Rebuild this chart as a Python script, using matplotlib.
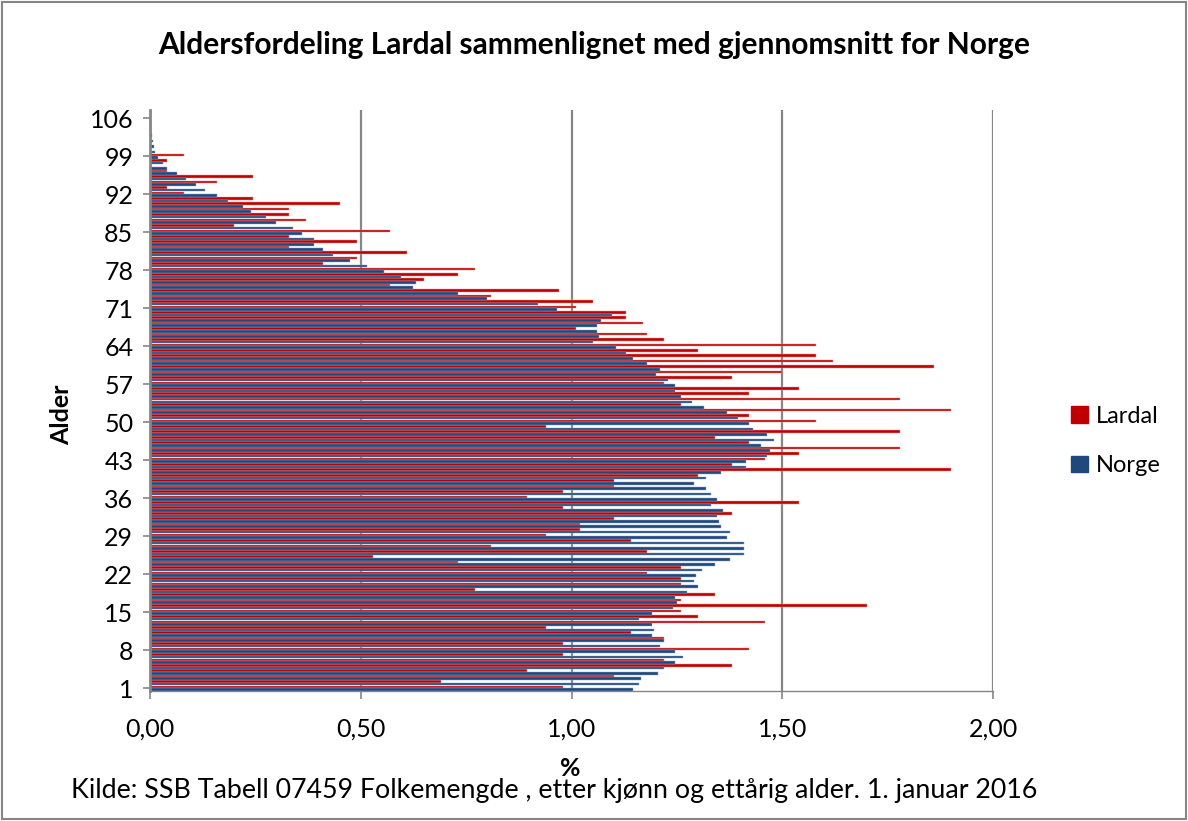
import matplotlib
matplotlib.use("Agg")
import matplotlib.pyplot as plt
from matplotlib.patches import Patch, Rectangle
from matplotlib.ticker import FuncFormatter
import numpy as np

plt.rcParams['font.family'] = ['Lato', 'DejaVu Sans']

categories = list(range(1, 108))

lardal = [0.98, 0.69, 1.10, 0.895, 1.38, 1.22, 0.98, 1.42, 0.98, 1.22,
          1.14, 0.94, 1.46, 1.30, 1.26, 1.70, 1.26, 1.34, 0.77, 1.26,
          1.26, 1.18, 1.26, 0.73, 0.53, 1.18, 0.81, 1.14, 0.94, 1.02,
          1.02, 1.10, 1.38, 0.98, 1.54, 0.895, 0.98, 1.10, 1.10, 1.30,
          1.90, 1.38, 1.46, 1.54, 1.78, 1.42, 1.34, 1.78, 0.94, 1.58,
          1.42, 1.90, 1.26, 1.78, 1.42, 1.54, 1.22, 1.38, 1.50, 1.86,
          1.62, 1.58, 1.30, 1.58, 1.22, 1.18, 1.01, 1.17, 1.13, 1.13,
          1.01, 1.05, 0.81, 0.97, 0.57, 0.65, 0.73, 0.77, 0.41, 0.49,
          0.61, 0.33, 0.49, 0.33, 0.57, 0.20, 0.37, 0.33, 0.33, 0.45,
          0.245, 0.08, 0.04, 0.16, 0.245, 0.04, 0.0, 0.04, 0.08, 0.0,
          0.0, 0.0, 0.0, 0.0, 0.0, 0.0, 0.0]

norge = [1.145, 1.16, 1.165, 1.205, 1.22, 1.245, 1.265, 1.245, 1.21, 1.22,
         1.19, 1.195, 1.19, 1.16, 1.19, 1.24, 1.25, 1.245, 1.275, 1.30,
         1.29, 1.295, 1.31, 1.34, 1.375, 1.41, 1.41, 1.41, 1.37, 1.375,
         1.355, 1.35, 1.345, 1.36, 1.33, 1.345, 1.33, 1.32, 1.29, 1.32,
         1.355, 1.415, 1.415, 1.465, 1.47, 1.45, 1.48, 1.465, 1.43, 1.42,
         1.395, 1.37, 1.315, 1.285, 1.26, 1.245, 1.245, 1.23, 1.20, 1.21,
         1.18, 1.145, 1.13, 1.105, 1.05, 1.065, 1.06, 1.06, 1.07, 1.095,
         0.965, 0.92, 0.80, 0.73, 0.625, 0.63, 0.595, 0.555, 0.515, 0.475,
         0.435, 0.41, 0.39, 0.39, 0.36, 0.34, 0.30, 0.275, 0.24, 0.22,
         0.185, 0.16, 0.13, 0.11, 0.085, 0.065, 0.04, 0.03, 0.02, 0.013,
         0.009, 0.006, 0.004, 0.003, 0.002, 0.001, 0.001]

x_ticks = [0.0, 0.5, 1.0, 1.5, 2.0]

W, H = 1188, 821
fig = plt.figure(figsize=(W / 100, H / 100), dpi=100)
ax = fig.add_axes([150 / W, 1 - 691 / H, (993 - 150) / W, (691 - 110) / H])

red = '#C00000'
blue = '#1F497D'
y = np.arange(len(categories))
h = 0.48
ax.barh(y + 0.24, lardal, height=h, color=red, edgecolor='#E59A9A', linewidth=0.35, zorder=3)
ax.barh(y - 0.24, norge, height=h, color=blue, edgecolor='#8FA6C4', linewidth=0.35, zorder=3)

ax.set_xlim(0, 2.0)
ax.set_ylim(-0.5, len(categories) - 0.5)
ax.set_xticks(x_ticks)
ax.xaxis.set_major_formatter(FuncFormatter(lambda v, p: f"{v:.2f}".replace('.', ',')))
tick_idx = list(range(0, len(categories), 7))
ax.set_yticks(tick_idx)
ax.set_yticklabels([str(categories[i]) for i in tick_idx])

gray = '#868686'
ax.grid(axis='x', color=gray, linewidth=1.6, zorder=1)
ax.grid(axis='y', visible=False)
for s in ['top', 'right']:
    ax.spines[s].set_visible(False)
ax.spines['left'].set_color(gray)
ax.spines['left'].set_linewidth(2.0)
ax.spines['left'].set_zorder(4)
ax.spines['bottom'].set_color(gray)
ax.spines['bottom'].set_linewidth(1.0)
ax.tick_params(axis='x', colors=gray, length=6, width=1.2, labelsize=18, labelcolor='black', pad=13)
ax.tick_params(axis='y', colors=gray, length=5, width=1.2, labelsize=18, labelcolor='black', pad=7)

fig.text(594 / W, 1 - 45 / H, 'Aldersfordeling Lardal sammenlignet med gjennomsnitt for Norge',
         ha='center', va='center', fontsize=21.5, fontweight='bold')
fig.text(62 / W, 1 - 415 / H, 'Alder', rotation=90, ha='center', va='center',
         fontsize=18, fontweight='bold')
fig.text(570 / W, 1 - 768 / H, '%', ha='center', va='center', fontsize=18, fontweight='bold')
fig.text(554 / W, 1 - 790 / H,
         'Kilde: SSB Tabell 07459 Folkemengde , etter kjønn og ettårig alder. 1. januar 2016',
         ha='center', va='center', fontsize=19.3)

handles = [Patch(facecolor=red, edgecolor=red), Patch(facecolor=blue, edgecolor=blue)]
fig.legend(handles, ['Lardal', 'Norge'], loc='center left',
           bbox_to_anchor=(1050 / W, 1 - 441 / H), frameon=False, fontsize=17,
           handlelength=0.7, handleheight=0.7, handletextpad=0.35, labelspacing=1.2)

fig.add_artist(Rectangle((0.002, 0.002), 0.996, 0.995, transform=fig.transFigure,
                         fill=False, edgecolor=gray, linewidth=1.5))

fig.savefig('out.png', dpi=100)
